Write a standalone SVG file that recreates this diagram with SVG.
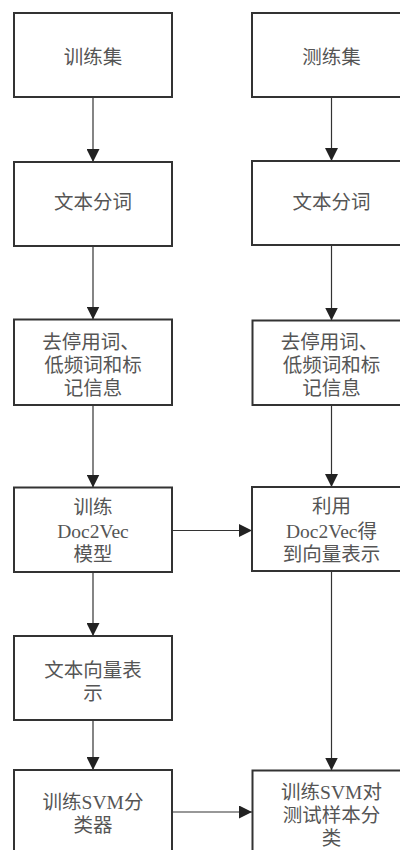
<svg xmlns="http://www.w3.org/2000/svg" width="400" height="850" viewBox="0 0 400 850">
<defs>
<marker id="ah" markerUnits="userSpaceOnUse" markerWidth="13" markerHeight="13" viewBox="0 0 12 12" refX="12" refY="6" orient="auto">
<path d="M0,0 L12,6 L0,12 Z" fill="#222"/>
</marker>
<style>
.box{fill:#fff;stroke:#333;stroke-width:2}
.t{font-family:"Liberation Serif","Noto Sans CJK SC",serif;font-size:19.5px;fill:#555;text-anchor:middle}
.c{fill:none;stroke:#333;stroke-width:1.2;marker-end:url(#ah)}
</style>
</defs>
<rect width="400" height="850" fill="#fff"/>
<g id="connectors">
<path class="c" d="M93,97 V162"/>
<path class="c" d="M93,246 V319.5"/>
<path class="c" d="M93,405 V487.5"/>
<path class="c" d="M93,572 V636"/>
<path class="c" d="M93,720 V770"/>
<path class="c" d="M331.5,97 V161"/>
<path class="c" d="M331.5,245 V320.5"/>
<path class="c" d="M331.5,405 V487"/>
<path class="c" d="M331.5,571 V770.5"/>
<path class="c" d="M172,530.5 H252"/>
<path class="c" d="M172,812 H252"/>
</g>
<g id="train-set"><rect class="box" x="14" y="13" width="158" height="84"/><text class="t" x="93" y="64">训练集</text></g>
<g id="test-set"><rect class="box" x="252" y="13" width="160" height="84"/><text class="t" x="331.5" y="64">测练集</text></g>
<g id="seg-left"><rect class="box" x="14" y="162" width="158" height="84"/><text class="t" x="93" y="209">文本分词</text></g>
<g id="seg-right"><rect class="box" x="252" y="161" width="160" height="84"/><text class="t" x="331.5" y="209">文本分词</text></g>
<g id="stop-left"><rect class="box" x="14" y="319.5" width="158" height="85.5"/>
<text class="t" x="91" y="349">去停用词、</text><text class="t" x="93" y="372">低频词和标</text><text class="t" x="93" y="395">记信息</text></g>
<g id="stop-right"><rect class="box" x="252.5" y="320.5" width="160" height="84.5"/>
<text class="t" x="329.5" y="349">去停用词、</text><text class="t" x="331.5" y="372">低频词和标</text><text class="t" x="331.5" y="395">记信息</text></g>
<g id="train-d2v"><rect class="box" x="14" y="487.5" width="158" height="84.5"/>
<text class="t" x="93" y="513.5">训练</text><text class="t" x="93" y="538">Doc2Vec</text><text class="t" x="93" y="561">模型</text></g>
<g id="use-d2v"><rect class="box" x="252" y="487" width="160" height="84"/>
<text class="t" x="331.5" y="513">利用</text><text class="t" x="331.5" y="537.5">Doc2Vec得</text><text class="t" x="331.5" y="560.5">到向量表示</text></g>
<g id="vec-repr"><rect class="box" x="14" y="636" width="158" height="84"/>
<text class="t" x="93" y="677">文本向量表</text><text class="t" x="93" y="700">示</text></g>
<g id="train-svm"><rect class="box" x="14" y="770" width="158" height="95"/>
<text class="t" x="93" y="809">训练SVM分</text><text class="t" x="93" y="832">类器</text></g>
<g id="classify"><rect class="box" x="252.5" y="770.5" width="160" height="95"/>
<text class="t" x="331.5" y="799">训练SVM对</text><text class="t" x="331.5" y="822">测试样本分</text><text class="t" x="331.5" y="845">类</text></g>
</svg>
